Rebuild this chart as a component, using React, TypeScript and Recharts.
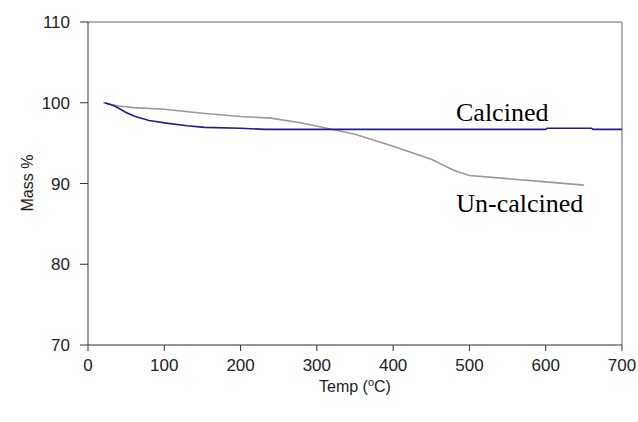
import { LineChart, Line, XAxis, YAxis, ReferenceLine, ReferenceDot } from 'recharts';

const calcinedTemp = [22, 35, 50, 62, 80, 105, 130, 153, 200, 232, 600, 602, 660, 662, 700];
const calcinedMass = [100, 99.6, 98.8, 98.3, 97.8, 97.45, 97.15, 96.95, 96.85, 96.7, 96.7, 96.85, 96.85, 96.7, 96.7];

const uncalcinedTemp = [20, 40, 60, 100, 150, 200, 240, 280, 310, 350, 400, 450, 480, 500, 550, 600, 650];
const uncalcinedMass = [100, 99.6, 99.4, 99.2, 98.7, 98.3, 98.1, 97.5, 96.9, 96.1, 94.6, 93.0, 91.6, 91.0, 90.6, 90.2, 89.8];

const xTicks = [0, 100, 200, 300, 400, 500, 600, 700];
const yTicks = [70, 80, 90, 100, 110];

const calcinedData = calcinedTemp.map((t, i) => ({ temp: t, mass: calcinedMass[i] }));
const uncalcinedData = uncalcinedTemp.map((t, i) => ({ temp: t, mass: uncalcinedMass[i] }));

const tickStyle = { fontFamily: 'Liberation Sans, Arial, sans-serif', fontSize: 17, fill: '#222' };

function seriesLabel(text: string) {
  return (props: any) => {
    const { viewBox } = props;
    return (
      <text
        x={viewBox.x + viewBox.width / 2}
        y={viewBox.y + viewBox.height / 2}
        textAnchor="middle"
        fontFamily="Liberation Serif, 'Times New Roman', serif"
        fontSize={26}
        fill="#000"
      >
        {text}
      </text>
    );
  };
}

export default function App() {
  return (
    <div style={{ position: 'absolute', left: 0, top: 0, background: '#fff' }}>
      <LineChart width={638} height={422} margin={{ top: 22, right: 16, left: 28, bottom: 47 }}>
        <XAxis
          dataKey="temp"
          type="number"
          domain={[0, 700]}
          ticks={xTicks}
          allowDataOverflow
          stroke="#333"
          tickSize={6}
          tickMargin={8}
          tick={tickStyle}
          height={30}
        />
        <YAxis
          dataKey="mass"
          type="number"
          domain={[70, 110]}
          ticks={yTicks}
          allowDataOverflow
          stroke="#333"
          tickSize={8}
          tickMargin={10}
          tick={tickStyle}
          width={60}
        />
        <ReferenceLine y={110} stroke="#999" strokeWidth={1.5} />
        <ReferenceLine x={700} stroke="#999" strokeWidth={1.5} />
        <Line
          data={uncalcinedData}
          dataKey="mass"
          type="linear"
          stroke="#999"
          strokeWidth={1.6}
          dot={false}
          isAnimationActive={false}
        />
        <Line
          data={calcinedData}
          dataKey="mass"
          type="linear"
          stroke="#1e1e8c"
          strokeWidth={1.6}
          dot={false}
          isAnimationActive={false}
        />
        <ReferenceDot x={543} y={97.73} r={0} fill="none" stroke="none" label={seriesLabel('Calcined')} />
        <ReferenceDot x={566} y={86.46} r={0} fill="none" stroke="none" label={seriesLabel('Un-calcined')} />
        <text x={355} y={392} textAnchor="middle" fontFamily="Liberation Sans, Arial, sans-serif" fontSize={16} fill="#222">
          Temp (<tspan fontSize={11} dy={-6}>o</tspan><tspan dy={6}>C)</tspan>
        </text>
        <text
          x={27}
          y={183}
          textAnchor="middle"
          transform="rotate(-90 27 183)"
          dominantBaseline="central"
          fontFamily="Liberation Sans, Arial, sans-serif"
          fontSize={16}
          fill="#222"
        >
          Mass %
        </text>
      </LineChart>
    </div>
  );
}
